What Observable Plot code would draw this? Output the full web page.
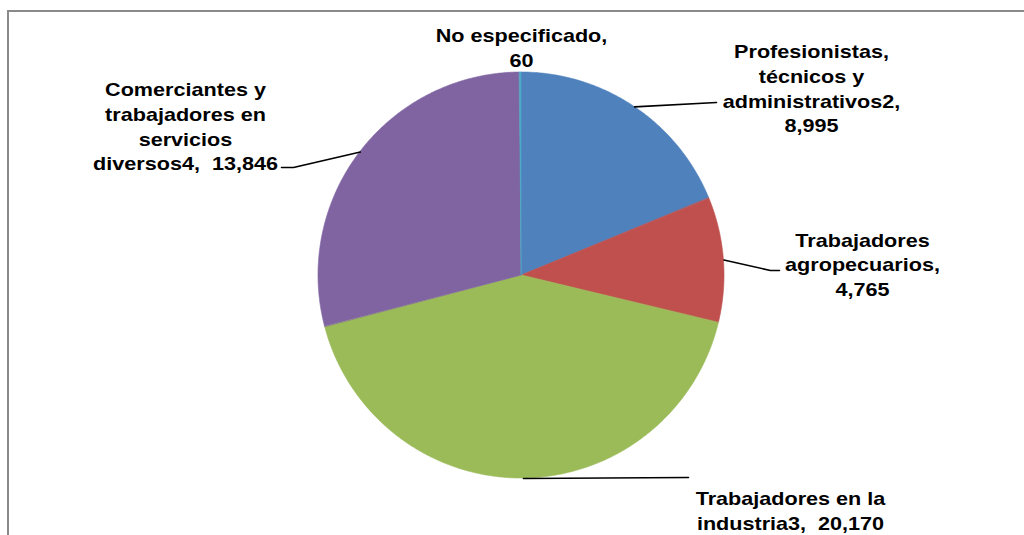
<!DOCTYPE html>
<html>
<head>
<meta charset="utf-8">
<script src="https://cdn.jsdelivr.net/npm/d3@7"></script>
<script src="https://cdn.jsdelivr.net/npm/@observablehq/plot@0.6"></script>
<style>
  html, body { margin: 0; padding: 0; background: #fff; }
  #wrap { position: relative; width: 1024px; height: 535px; overflow: hidden; }
  #frame { position: absolute; left: 7px; top: 10px; width: 1100px; height: 600px;
           border-top: 2px solid #8a8a8a; border-left: 2px solid #8a8a8a; pointer-events: none; }
  #chart { position: absolute; left: 0; top: 0; }
</style>
</head>
<body>
<div id="wrap"><div id="chart"></div><div id="frame"></div></div>
<script>
// ---- Data ----
const categories = [
  "Profesionistas, técnicos y administrativos2",
  "Trabajadores agropecuarios",
  "Trabajadores en la industria3",
  "Comerciantes y trabajadores en servicios diversos4",
  "No especificado"
];
const values = [8995, 4765, 20170, 13846, 60];
const colors = ["#4F81BD", "#C0504D", "#9BBB59", "#8064A2", "#4BACC6"];
// label text (category part, already wrapped as in the original)
const labelHeads = [
  "Profesionistas,\ntécnicos y\nadministrativos2,\n",
  "Trabajadores\nagropecuarios,\n",
  "Trabajadores en la\nindustria3,\u00a0 ",
  "Comerciantes y\ntrabajadores en\nservicios\ndiversos4,\u00a0 ",
  "No especificado,\n"
];

// ---- Layout (pixels) ----
const W = 1024, H = 535;
const CX = 521, CY = 275, R = 203;
// label block centres and leader-line end points
const labelCenters = [[811, 87], [862, 263], [790, 509], [185, 125], [521, 46]];
const leaderEnds = [
  [[716, 102]],
  [[770, 270], [779, 270]],
  [[688, 477]],
  [[293, 167], [281, 167]],
  null
];

const toX = px => (px - CX) / R;
const toY = py => (CY - py) / R;

// ---- Build slices ----
const total = d3.sum(values);
const fmt = d3.format(",");
const slicePts = [];
const leaders = [];
const labels = [];
let acc = 0;
categories.forEach((name, i) => {
  const a0 = acc / total * 2 * Math.PI;
  acc += values[i];
  const a1 = acc / total * 2 * Math.PI;
  const n = Math.max(2, Math.ceil((a1 - a0) / (Math.PI / 360)) + 1);
  for (let k = 0; k < n; k++) {
    const a = a0 + (a1 - a0) * k / (n - 1);
    slicePts.push({name, x: Math.sin(a), y: Math.cos(a)});
  }
  const am = (a0 + a1) / 2;
  if (leaderEnds[i]) {
    leaders.push({name, x: Math.sin(am), y: Math.cos(am)});
    leaderEnds[i].forEach(([px, py]) => leaders.push({name, x: toX(px), y: toY(py)}));
  }
  labels.push({name, x: toX(labelCenters[i][0]), y: toY(labelCenters[i][1]),
               text: labelHeads[i] + fmt(values[i])});
});

const chart = Plot.plot({
  width: W, height: H,
  margin: 0,
  x: {domain: [toX(0), toX(W)], range: [0, W], axis: null},
  y: {domain: [toY(H), toY(0)], range: [H, 0], axis: null},
  color: {domain: categories, range: colors},
  marks: [
    Plot.area(slicePts, {x1: "x", y1: "y", x2: 0, y2: 0, z: "name",
      fill: "name", stroke: "name", strokeWidth: 0.6}),
    Plot.line(leaders, {x: "x", y: "y", z: "name", stroke: "#000", strokeWidth: 1.6}),
    Plot.text(labels, {x: "x", y: "y", text: "text", fontSize: 18, fontWeight: "bold",
      fontFamily: "Liberation Sans, Arial, sans-serif", lineHeight: 1.37,
      textAnchor: "middle", fill: "#000"})
  ]
});
document.getElementById("chart").appendChild(chart);

// Original labels are horizontally stretched Arial Bold: widen the glyphs a little
chart.querySelectorAll("text").forEach(el => {
  if (!el.querySelector("tspan") && !el.textContent) return;
  const t = el.getAttribute("transform");
  if (t) {
    el.setAttribute("transform", t + " scale(1.2,1)");
  } else {
    const x = el.getAttribute("x") || 0, y = el.getAttribute("y") || 0;
    el.removeAttribute("x"); el.removeAttribute("y");
    el.setAttribute("transform", `translate(${x},${y}) scale(1.2,1)`);
  }
});
</script>
</body>
</html>
